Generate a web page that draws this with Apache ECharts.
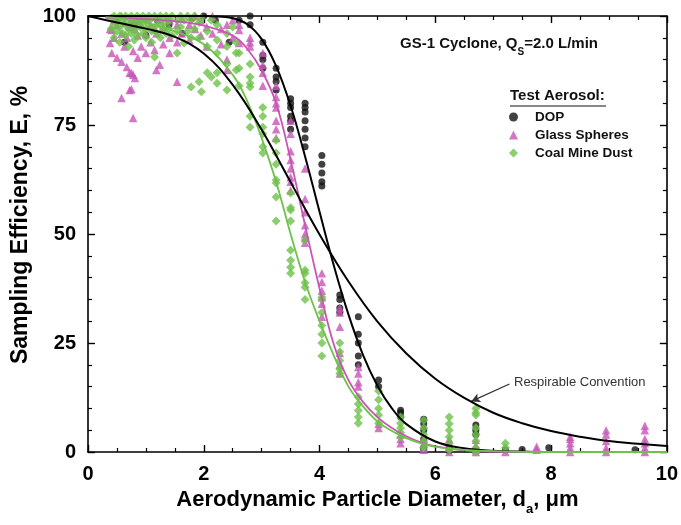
<!DOCTYPE html>
<html><head><meta charset="utf-8">
<script src="https://cdn.jsdelivr.net/npm/echarts@6/dist/echarts.min.js"></script>
<style>html,body{margin:0;padding:0;background:#fff}#c{width:681px;height:525px}</style>
</head><body><div id="c"></div>
<script>
// ---- data ----
const xRange = [0, 10];
const yRange = [0, 100];
const seriesNames = ['DOP', 'Glass Spheres', 'Coal Mine Dust'];

// measured points [diameter um, efficiency %]
const dopPoints = [
  [0.5,99],[0.63,94],[0.8,98],[1.0,95.6],[1.2,99],[1.4,98],[1.63,96],[1.8,99.5],[2.0,100],[2.2,99],[2.44,94],[2.61,99],
  [2.8,100],[2.8,98],
  [3.02,94],[3.02,91],[3.02,90],[3.02,88],
  [3.25,88],[3.25,86],[3.25,85],[3.25,83],
  [3.5,81],[3.5,80],[3.5,79],[3.5,77],[3.5,76],[3.5,74],
  [3.75,80],[3.75,79],[3.75,78],[3.75,76],[3.75,74],[3.75,72],[3.75,70],
  [4.04,68],[4.04,66],[4.04,64],[4.04,62],[4.04,61],
  [4.35,36],[4.35,35],[4.35,33],[4.35,32],
  [4.67,31],[4.67,27],[4.67,25],[4.67,22],[4.67,20],
  [5.02,16.5],[5.02,15],
  [5.4,9.6],[5.4,9],[5.4,8],
  [5.8,7.5],[5.8,6.5],[5.8,5],[5.8,3],[5.8,1],[5.8,0.5],
  [6.24,1],[6.24,0.3],
  [6.7,6.2],[6.7,5],[6.7,4],
  [7.21,0.5],[7.5,0.6],[7.96,1.0],[9.45,0.5]
];
const glassPoints = [
  [0.38,93.8],[0.38,97],[0.41,96.8],[0.41,91.5],[0.45,99],[0.45,95],[0.5,90.4],[0.5,98],
  [0.58,89.5],[0.58,81.2],[0.58,96],[0.58,100],[0.63,93],[0.63,98.5],[0.67,88.3],[0.67,95],
  [0.72,87],[0.72,83],[0.72,97.5],[0.75,86.9],[0.75,83.2],[0.75,99],[0.78,86.5],[0.78,76.6],[0.78,92],
  [0.81,85.8],[0.81,97],[0.86,90.4],[0.86,95.5],[0.86,99],[0.92,93],[0.92,98],
  [1.0,91.5],[1.0,96],[1.0,99.5],[1.08,94],[1.08,98],[1.15,92.2],[1.15,97],[1.18,87.6],[1.18,96],
  [1.24,88.8],[1.24,99],[1.3,93.5],[1.3,97.5],[1.41,91.5],[1.41,95],[1.41,99],
  [1.54,84.9],[1.54,94],[1.54,98],[1.62,96],[1.62,99.5],[1.75,94.5],[1.75,98],[1.85,97],[1.85,100],
  [1.95,95.5],[1.95,99],[2.05,97.5],[2.05,93],[2.15,96],[2.15,100],[2.3,97],[2.3,93.5],
  [2.4,87.6],[2.4,90],[2.4,98],[2.5,99],[2.5,95],[2.61,98],[2.61,96.8],[2.61,93.8],
  [2.8,95],[2.8,94],[2.8,93],
  [3.02,91.5],[3.02,88.8],[3.02,87],[3.02,84],
  [3.25,84],[3.25,81.4],[3.25,80],[3.25,79],[3.25,76],[3.25,74],[3.25,72],
  [3.5,76],[3.5,73],[3.5,69],[3.5,67],[3.5,65],[3.5,63],[3.5,62],[3.5,60],
  [3.75,65],[3.75,58],[3.75,55],[3.75,52],[3.75,50],[3.75,49],[3.75,48],
  [4.04,41],[4.04,39],[4.04,37],[4.04,35.5],[4.04,34],[4.04,31],
  [4.35,33],[4.35,32],[4.35,28.7],[4.35,22.7],[4.35,20],[4.35,18],
  [4.67,19.5],[4.67,18],[4.67,16],[4.67,15],
  [5.02,6.5],[5.02,5.5],
  [5.4,4],[5.4,3],[5.4,2],
  [5.8,3],[5.8,2],[5.8,1],[5.8,0.5],
  [6.24,3],[6.24,2],[6.24,1],[6.24,0],
  [6.7,2.8],[6.7,1.5],[6.7,0.5],[6.7,0],
  [7.21,0],[7.75,1.2],[7.75,0.5],
  [8.33,3.5],[8.33,3],[8.33,2],[8.33,1],[8.33,0],
  [8.95,5],[8.95,4],[8.95,2.5],[8.95,1],[8.95,0],
  [9.62,6],[9.62,5],[9.62,3],[9.62,2],[9.62,1],[9.62,0]
];
const coalPoints = [
  [0.4,99.5],[0.4,97],[0.45,100],[0.45,98],[0.45,95],[0.5,99],[0.5,96.5],[0.55,100],[0.55,97.5],[0.55,94],
  [0.6,99],[0.6,96],[0.65,100],[0.65,98],[0.65,95.5],[0.7,99.5],[0.7,97],[0.7,93],[0.75,100],[0.75,98.5],[0.75,96],
  [0.8,99],[0.8,97],[0.8,94.5],[0.85,100],[0.85,98],[0.85,95.5],[0.9,99.5],[0.9,97.5],[0.95,100],[0.95,98.5],[0.95,96],
  [1.0,99],[1.0,97],[1.0,95],[1.05,100],[1.05,98],[1.1,99.5],[1.1,96.5],[1.1,94],[1.15,100],[1.15,97.5],[1.15,90.6],
  [1.2,99],[1.2,96],[1.25,100],[1.25,98],[1.25,95],[1.3,99.5],[1.3,97],[1.35,100],[1.35,98.5],[1.35,96],
  [1.4,99],[1.4,97],[1.45,100],[1.45,95.5],[1.54,99],[1.54,96.5],[1.54,91.5],[1.6,100],[1.6,97.5],
  [1.66,99],[1.66,93.8],[1.72,100],[1.72,96.5],[1.78,99],[1.78,83.7],[1.78,95],[1.84,100],[1.84,97],
  [1.92,98.5],[1.92,84.9],[1.92,95],[1.96,82.6],[1.96,99.5],[2.06,96.5],[2.06,93],[2.06,87],[2.13,99],[2.13,86],
  [2.23,98],[2.23,94.5],[2.23,91.5],[2.23,87],[2.23,84.6],[2.4,96],[2.4,93],[2.4,89],[2.4,83],[2.5,97.5],
  [2.56,94],[2.56,91.5],[2.56,87.6],[2.61,91.5],[2.61,88],[2.61,84],
  [2.8,89],[2.8,86],[2.8,84.6],[2.8,83.7],[2.8,77],[2.8,74.5],
  [3.02,79],[3.02,77],[3.02,74.5],[3.02,73],[3.02,70],[3.02,68.6],
  [3.25,71.5],[3.25,68.6],[3.25,66],[3.25,62.4],[3.25,61.7],[3.25,58.5],[3.25,53],
  [3.5,59.4],[3.5,56],[3.5,55.5],[3.5,53],[3.5,46.3],[3.5,44],[3.5,42.4],[3.5,41],
  [3.75,48.6],[3.75,41.7],[3.75,41],[3.75,38.8],[3.75,37.8],[3.75,35],
  [4.04,35.5],[4.04,35],[4.04,32],[4.04,29],[4.04,27],[4.04,25],[4.04,22],
  [4.35,25],[4.35,23],[4.35,21],[4.35,19],[4.35,18],
  [4.67,12.6],[4.67,11],[4.67,9.5],[4.67,8],[4.67,6.6],
  [5.02,14],[5.02,12],[5.02,10],[5.02,8.5],[5.02,6.6],
  [5.4,8],[5.4,6.6],[5.4,5.5],[5.4,4.5],[5.4,3.4],
  [5.8,7.3],[5.8,5.5],[5.8,4],[5.8,2.5],[5.8,1],
  [6.24,8],[6.24,6.5],[6.24,5],[6.24,3.5],[6.24,2],[6.24,0.5],
  [6.7,10],[6.7,9],[6.7,8.5],[6.7,5.5],[6.7,4],[6.7,2.5],[6.7,1],[6.7,0],
  [7.21,2],[7.21,1]
];

// fitted curves and the respirable convention [diameter, efficiency]
const dopCurve = [[0,100],[2,100],[2.25,99.9],[2.5,99.5],[2.75,98.1],[3.0,94.7],[3.25,88.5],[3.5,79.4],[3.75,67.8],
  [4.0,55.1],[4.25,42.6],[4.5,31.5],[4.75,22.3],[5.0,15.2],[5.25,10.0],[5.5,6.4],[6.0,2.4],[6.5,0.85],[7.0,0.28],[7.5,0.1],[8,0],[10,0]];
const glassCurve = [[0.3,99.6],[1,99.3],[1.5,98.8],[2,97.8],[2.5,95.5],[2.75,92.5],[3.0,87.5],[3.25,80],[3.5,67],[3.75,52],
  [4.0,37.5],[4.25,24.5],[4.5,16.5],[4.75,11.5],[5.0,8],[5.25,5.5],[5.5,3.6],[5.75,2.2],[6.0,1.3],[6.5,0.4],[7.0,0.1],[8,0],[10,0]];
const coalCurve = [[0.3,99.7],[0.5,99.5],[1,98.5],[1.5,96.5],[2,93.5],[2.5,86.5],[2.75,80.5],[3.0,72],[3.25,62],[3.5,50],
  [3.75,39],[4.0,30],[4.25,22],[4.5,15],[4.75,10.5],[5.0,7],[5.25,4.8],[5.5,3.2],[5.75,2],[6.0,1.2],[6.5,0.5],[7.0,0.2],[8,0],[10,0]];
const respCurve = [[0,100],[0.5,98.5],[1,97.1],[1.5,95.2],[2,91.4],[2.5,84.2],[3,73.9],[3.5,61.9],[4,49.9],[4.5,39.1],
  [5,29.9],[5.5,22.6],[6,16.8],[6.5,12.4],[7,9.0],[7.5,6.6],[8,4.8],[8.5,3.5],[9,2.5],[9.5,1.9],[10,1.35]];
const arrowFrom = [7.28, 15.6];
const arrowTo = [6.62, 11.6];

// ---- chart ----
const FONT = '"Liberation Sans", Arial, sans-serif';
const colDop = '#111111', colGlass = '#c755b6', colCoal = '#6dc24a';
const chart = echarts.init(document.getElementById('c'), null, {renderer: 'canvas'});

function valueAxis(range, interval, minorSplit, pos, showLabels, extra) {
  return Object.assign({
    type: 'value', min: range[0], max: range[1], interval: interval, position: pos,
    axisLine: {show: true, onZero: false, lineStyle: {color: '#000', width: 1.6}},
    axisTick: {show: true, inside: true, length: 7, lineStyle: {color: '#000', width: 1.4}},
    minorTick: {show: true, splitNumber: minorSplit, length: 4, lineStyle: {color: '#000', width: 1.2}},
    splitLine: {show: false},
    axisLabel: {show: showLabels, color: '#000', fontFamily: FONT, fontWeight: 'bold', fontSize: 20},
  }, extra || {});
}

chart.setOption({
  animation: false,
  backgroundColor: '#fff',
  grid: {left: 88, right: 10, top: 16, bottom: 73, containLabel: false},
  xAxis: [
    valueAxis(xRange, 2, 4, 'bottom', true, {
      name: 'Aerodynamic Particle Diameter, d{s|a}, μm', nameLocation: 'middle', nameGap: 35,
      nameTextStyle: {color: '#000', fontFamily: FONT, fontWeight: 'bold', fontSize: 22,
        rich: {s: {fontSize: 13, fontWeight: 'bold', fontFamily: FONT, verticalAlign: 'bottom', padding: [0,0,-5,0], color: '#000'}}},
      axisLabel: {show: true, color: '#000', fontFamily: FONT, fontWeight: 'bold', fontSize: 20, margin: 12}
    }),
    valueAxis(xRange, 2, 4, 'top', false)
  ],
  yAxis: [
    valueAxis(yRange, 25, 5, 'left', true, {
      name: 'Sampling Efficiency, E, %', nameLocation: 'middle', nameGap: 45, nameRotate: 90,
      nameTextStyle: {color: '#000', fontFamily: FONT, fontWeight: 'bold', fontSize: 23, padding: [0,0,0,18]},
      axisLabel: {show: true, color: '#000', fontFamily: FONT, fontWeight: 'bold', fontSize: 20, margin: 12}
    }),
    valueAxis(yRange, 25, 5, 'right', false)
  ],
  legend: {
    data: seriesNames, orient: 'vertical', left: 504, top: 105, itemGap: 4,
    itemWidth: 9, itemHeight: 9,
    textStyle: {color: '#111', fontFamily: FONT, fontWeight: 'bold', fontSize: 13.5, padding: [0,0,0,12]}
  },
  graphic: [
    {type: 'text', left: 400, top: 36, style: {
      text: 'GS-1 Cyclone, Q{s|S}=2.0 L/min', fill: '#111', font: 'bold 15px ' + FONT,
      rich: {s: {font: 'bold 10px ' + FONT, fill: '#111', verticalAlign: 'bottom', padding: [0,0,-6,0]}}}},
    {type: 'text', left: 510, top: 88, style: {text: 'Test Aerosol:', fill: '#111', font: 'bold 15px ' + FONT}},
    {type: 'line', shape: {x1: 510, y1: 106, x2: 606, y2: 106}, style: {stroke: '#111', lineWidth: 1.2}},
    {type: 'text', left: 514, top: 376, style: {text: 'Respirable Convention', fill: '#333', font: '13px ' + FONT}}
  ],
  series: [
    {name: 'DOP', type: 'scatter', data: dopPoints, symbol: 'circle', symbolSize: 7,
      itemStyle: {color: colDop}, z: 2},
    {name: 'Glass Spheres', type: 'scatter', data: glassPoints, symbol: 'triangle', symbolSize: 8.5,
      itemStyle: {color: colGlass}, z: 3},
    {name: 'Coal Mine Dust', type: 'scatter', data: coalPoints, symbol: 'diamond', symbolSize: 9,
      itemStyle: {color: colCoal}, z: 4},
    {name: 'DOP fit', type: 'line', data: dopCurve, smooth: 0.4, showSymbol: false, symbol: 'none',
      lineStyle: {color: '#000', width: 2}, z: 6},
    {name: 'Glass fit', type: 'line', data: glassCurve, smooth: 0.4, showSymbol: false, symbol: 'none',
      lineStyle: {color: colGlass, width: 1.8}, z: 6},
    {name: 'Coal fit', type: 'line', data: coalCurve, smooth: 0.4, showSymbol: false, symbol: 'none',
      lineStyle: {color: colCoal, width: 1.8}, z: 6},
    {name: 'Respirable', type: 'line', data: respCurve, smooth: 0.4, showSymbol: false, symbol: 'none',
      lineStyle: {color: '#000', width: 2}, z: 6,
      markLine: {silent: true, symbol: ['none', 'arrow'], symbolSize: [7, 9], animation: false,
        label: {show: false}, lineStyle: {color: '#333', width: 1.3, type: 'solid'},
        data: [[{coord: arrowFrom}, {coord: arrowTo}]]}}
  ]
});
</script>
</body></html>
